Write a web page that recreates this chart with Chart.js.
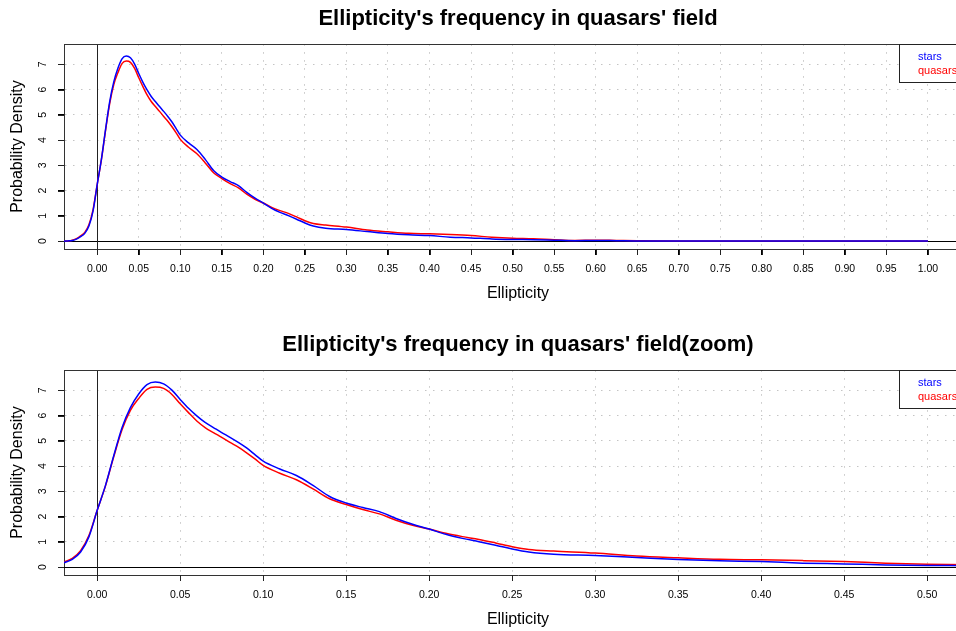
<!DOCTYPE html>
<html><head><meta charset="utf-8">
<script src="https://cdn.jsdelivr.net/npm/chart.js@4.4.0/dist/chart.umd.min.js"></script>
<style>
html,body{margin:0;padding:0;background:#fff;overflow:hidden;width:956px;height:631px;}
#wrap{position:relative;width:956px;height:631px;overflow:hidden;background:#fff;}
.c{position:absolute;left:0;width:972px;height:326px;}
canvas{display:block;}
</style></head><body>
<div id="wrap">
<div class="c" style="top:0"><canvas id="c1" width="972" height="326"></canvas></div>
<div class="c" style="top:326px"><canvas id="c2" width="972" height="326"></canvas></div>
</div>
<script>
// ---- data ----
const ellipticity = [-0.04,-0.035,-0.03,-0.025,-0.02,-0.015,-0.01,-0.005,0,0.005,0.01,0.015,0.02,0.025,0.03,0.035,0.04,0.045,0.05,0.055,0.06,0.065,0.07,0.075,0.08,0.085,0.09,0.095,0.1,0.11,0.12,0.13,0.14,0.15,0.16,0.17,0.18,0.19,0.2,0.21,0.22,0.23,0.24,0.25,0.26,0.275,0.3,0.325,0.35,0.375,0.4,0.425,0.45,0.475,0.5,0.525,0.55,0.575,0.6,0.625,0.65,0.7,0.75,0.8,0.85,0.9,0.95,1.0];
const stars   = [0.0,0.01,0.03,0.08,0.18,0.31,0.60,1.20,2.25,3.24,4.42,5.53,6.32,6.86,7.23,7.33,7.26,7.01,6.64,6.29,5.99,5.73,5.53,5.33,5.14,4.94,4.72,4.46,4.20,3.89,3.63,3.24,2.80,2.54,2.36,2.20,1.93,1.70,1.51,1.30,1.14,1.01,0.87,0.72,0.60,0.51,0.46,0.38,0.30,0.25,0.22,0.16,0.13,0.09,0.07,0.06,0.04,0.02,0.03,0.02,0.01,0.01,0.01,0.01,0.005,0.005,0.005,0.003];
const quasars = [0.0,0.01,0.04,0.10,0.21,0.35,0.65,1.25,2.25,3.22,4.38,5.45,6.21,6.68,7.04,7.13,7.08,6.84,6.47,6.12,5.79,5.53,5.33,5.14,4.94,4.75,4.53,4.29,4.03,3.72,3.46,3.10,2.71,2.48,2.28,2.11,1.86,1.66,1.51,1.34,1.21,1.10,0.96,0.81,0.70,0.64,0.56,0.44,0.37,0.31,0.29,0.26,0.22,0.16,0.12,0.10,0.06,0.03,0.04,0.03,0.02,0.01,0.01,0.01,0.005,0.005,0.005,0.003];
const seriesNames = ['stars','quasars'];
const xTicksFull = [0,0.05,0.1,0.15,0.2,0.25,0.3,0.35,0.4,0.45,0.5,0.55,0.6,0.65,0.7,0.75,0.8,0.85,0.9,0.95,1.0];
const xTicksZoom = [0,0.05,0.1,0.15,0.2,0.25,0.3,0.35,0.4,0.45,0.5];
const yTicks = [0,1,2,3,4,5,6,7];
const titles = ["Ellipticity's frequency in quasars' field","Ellipticity's frequency in quasars' field(zoom)"];

const FONT = '"Liberation Sans", Arial, Helvetica, sans-serif';
Chart.defaults.color = '#000';
Chart.defaults.font.family = FONT;

const pts = arr => ellipticity.map((x,i)=>({x:x,y:arr[i]}));

const decor = {
  id:'decor',
  beforeDatasetsDraw(chart){
    const ctx = chart.ctx, a = chart.chartArea, xs = chart.scales.x, ys = chart.scales.y;
    ctx.save();
    ctx.beginPath(); ctx.rect(a.left,a.top,a.right-a.left,a.bottom-a.top); ctx.clip();
    ctx.strokeStyle = '#000'; ctx.lineWidth = 1;
    const y0 = Math.round(ys.getPixelForValue(0))+0.5;
    const x0 = Math.round(xs.getPixelForValue(0))+0.5;
    ctx.beginPath(); ctx.moveTo(a.left,y0); ctx.lineTo(a.right,y0); ctx.stroke();
    ctx.strokeStyle = '#222';
    ctx.beginPath(); ctx.moveTo(x0,a.top); ctx.lineTo(x0,a.bottom); ctx.stroke();
    ctx.restore();
  },
  afterDraw(chart){
    const ctx = chart.ctx, a = chart.chartArea, xs = chart.scales.x, ys = chart.scales.y;
    ctx.save();
    // top edge of the box (left and bottom come from the axis borders)
    ctx.strokeStyle = '#333'; ctx.lineWidth = 1;
    ctx.beginPath(); ctx.moveTo(a.left, Math.round(a.top)+0.5); ctx.lineTo(a.right, Math.round(a.top)+0.5); ctx.stroke();
    // tick marks
    ctx.strokeStyle = '#222';
    ctx.beginPath();
    xs.ticks.forEach(t=>{
      const px = Math.round(xs.getPixelForValue(t.value))+0.5;
      ctx.moveTo(px, Math.round(a.bottom)); ctx.lineTo(px, Math.round(a.bottom)+6);
    });
    ys.ticks.forEach(t=>{
      const py = Math.round(ys.getPixelForValue(t.value))+0.5;
      ctx.moveTo(Math.round(a.left)-6, py); ctx.lineTo(Math.round(a.left), py);
    });
    ctx.stroke();
    // y tick labels (rotated, as in R)
    ctx.fillStyle = '#000';
    ctx.font = '10.5px ' + FONT;
    ctx.textAlign = 'center'; ctx.textBaseline = 'middle';
    ys.ticks.forEach(t=>{
      const py = ys.getPixelForValue(t.value);
      ctx.save(); ctx.translate(43.5, py); ctx.rotate(-Math.PI/2);
      ctx.fillText(String(t.value), 0, 0); ctx.restore();
    });
    // legend
    const bl = a.right - 73, bt = a.top;
    ctx.fillStyle = '#fff';
    ctx.fillRect(bl, bt, 73, 39);
    ctx.strokeStyle = '#222';
    ctx.strokeRect(Math.round(bl)+0.5, Math.round(bt)+0.5, 73, 38);
    ctx.font = '11px ' + FONT;
    ctx.textAlign = 'left'; ctx.textBaseline = 'middle';
    chart.data.datasets.forEach((d,i)=>{
      ctx.fillStyle = d.borderColor;
      ctx.fillText(d.label, a.right - 54, bt + 13 + i*14);
    });
    ctx.restore();
  }
};

function makeChart(id, title, xmin, xmax, xticks){
  return new Chart(document.getElementById(id), {
    type:'line',
    data:{datasets:[
      {label:seriesNames[0], data:pts(stars), borderColor:'#0000ff', borderWidth:1.5, pointRadius:0, cubicInterpolationMode:'monotone', fill:false},
      {label:seriesNames[1], data:pts(quasars), borderColor:'#ff0000', borderWidth:1.5, pointRadius:0, cubicInterpolationMode:'monotone', fill:false}
    ]},
    options:{
      responsive:false, animation:false, events:[],
      layout:{padding:0, autoPadding:false},
      plugins:{
        legend:{display:false}, tooltip:{enabled:false},
        title:{display:true, text:title, fullSize:false, font:{size:22, weight:'bold', family:FONT}, color:'#000', padding:{top:5.4,bottom:12.4}}
      },
      scales:{
        x:{type:'linear', min:xmin, max:xmax,
           afterBuildTicks(s){ s.ticks = xticks.map(v=>({value:v})); },
           afterFit(s){ s.height = 77; },
           ticks:{font:{size:10.5}, padding:8, maxRotation:0, minRotation:0, autoSkip:false,
                  callback:v=>Number(v).toFixed(2)},
           grid:{color:'#c4c4c4', lineWidth:1, tickLength:6, tickColor:'#000', tickBorderDash:[], tickWidth:1},
           border:{display:true, color:'#333', width:1, dash:[1.5,6.5]},
           title:{display:true, text:'Ellipticity', font:{size:16}, padding:{top:0,bottom:22.4}}
        },
        y:{type:'linear', min:-0.31, max:7.8,
           afterBuildTicks(s){ s.ticks = yTicks.map(v=>({value:v})); },
           afterFit(s){ s.width = 64; },
           ticks:{display:false},
           grid:{color:'#c4c4c4', lineWidth:1, tickLength:6, tickColor:'#000', tickBorderDash:[], tickWidth:1},
           border:{display:true, color:'#333', width:1, dash:[1.5,6.5]},
           title:{display:true, text:'Probability Density', font:{size:16}, padding:{top:8.4,bottom:0}}
        }
      }
    },
    plugins:[decor]
  });
}
makeChart('c1', titles[0], -0.04, 1.053, xTicksFull);
makeChart('c2', titles[1], -0.02, 0.527, xTicksZoom);
</script>
</body></html>
